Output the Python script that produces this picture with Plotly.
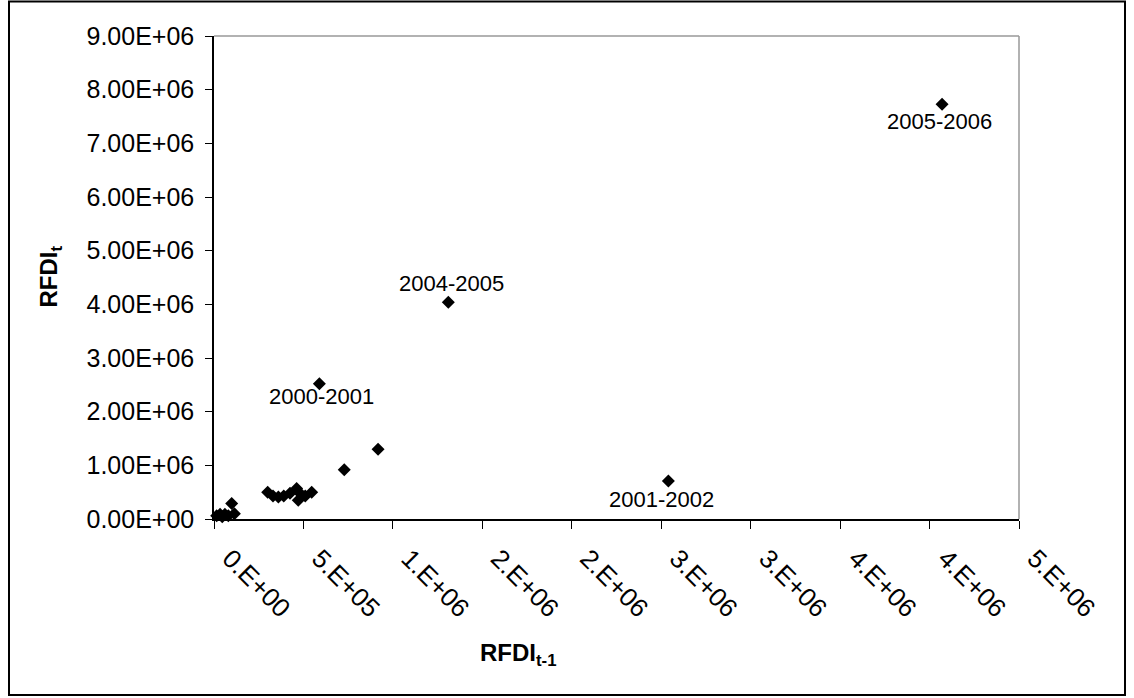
import plotly.graph_objects as go

# Data (values in units of 1)
x_vals = [0.015e6, 0.034e6, 0.046e6, 0.061e6, 0.080e6, 0.099e6, 0.114e6,
          0.300e6, 0.330e6, 0.360e6, 0.390e6, 0.425e6, 0.462e6, 0.475e6, 0.471e6, 0.510e6, 0.546e6,
          0.589e6, 0.728e6, 0.917e6, 1.310e6, 2.540e6, 4.070e6]
y_vals = [0.060e6, 0.087e6, 0.040e6, 0.087e6, 0.060e6, 0.290e6, 0.100e6,
          0.500e6, 0.430e6, 0.410e6, 0.430e6, 0.480e6, 0.570e6, 0.500e6, 0.350e6, 0.430e6, 0.500e6,
          2.520e6, 0.917e6, 1.300e6, 4.040e6, 0.710e6, 7.730e6]

label_names = ["2000-2001", "2004-2005", "2001-2002", "2005-2006"]
label_x = [0.589e6, 1.310e6, 2.540e6, 4.070e6]
label_y = [2.520e6, 4.040e6, 0.710e6, 7.730e6]
label_dx = [2, 3, -7, -3]
label_dy = [-13, 19, -19, -17]

x_tick_vals = [0, 0.5e6, 1.0e6, 1.5e6, 2.0e6, 2.5e6, 3.0e6, 3.5e6, 4.0e6, 4.5e6]
x_tick_text = ["0.E+00", "5.E+05", "1.E+06", "2.E+06", "2.E+06", "3.E+06", "3.E+06", "4.E+06", "4.E+06", "5.E+06"]
y_tick_vals = [0, 1e6, 2e6, 3e6, 4e6, 5e6, 6e6, 7e6, 8e6, 9e6]
y_tick_text = ["0.00E+00", "1.00E+06", "2.00E+06", "3.00E+06", "4.00E+06",
               "5.00E+06", "6.00E+06", "7.00E+06", "8.00E+06", "9.00E+06"]

FONT = "Liberation Sans, Arial, sans-serif"

fig = go.Figure()
fig.add_trace(go.Scatter(
    x=x_vals, y=y_vals, mode="markers",
    marker=dict(symbol="diamond", size=10, color="black"),
    showlegend=False, cliponaxis=False,
))

for name, lx, ly, dx, dy in zip(label_names, label_x, label_y, label_dx, label_dy):
    fig.add_annotation(x=lx, y=ly, text=name, showarrow=False,
                       xshift=dx, yshift=dy,
                       font=dict(family=FONT, size=22, color="black"))

L, R, T, B = 214, 1019, 36, 519
W, H = 1134, 698
pw, ph = R - L, B - T

# axis titles
fig.add_annotation(xref="paper", yref="paper",
                   x=(518 - L) / pw, y=(B - 672) / ph,
                   text="<b>RFDI<sub>t-1</sub></b>", showarrow=False,
                   font=dict(family=FONT, size=24, color="black"))
fig.add_annotation(xref="paper", yref="paper",
                   x=(32 - L) / pw, y=(B - 277) / ph,
                   text="<b>RFDI<sub>t</sub></b>", showarrow=False, textangle=-90,
                   font=dict(family=FONT, size=24, color="black"))

# outer border
fig.add_shape(type="rect", xref="paper", yref="paper",
              x0=(9 - L) / pw, x1=(1125 - L) / pw,
              y0=(B - 695) / ph, y1=(B - 1.5) / ph,
              line=dict(color="black", width=2), layer="below")
# plot area top/right gray border
fig.add_shape(type="line", xref="paper", yref="paper", x0=0, x1=1, y0=1, y1=1,
              line=dict(color="#999999", width=1.5))
fig.add_shape(type="line", xref="paper", yref="paper", x0=1, x1=1, y0=0, y1=1,
              line=dict(color="#999999", width=1.5))

fig.update_layout(
    width=W, height=H,
    margin=dict(l=L, r=W - R, t=T, b=H - B),
    paper_bgcolor="white", plot_bgcolor="white",
    font=dict(family=FONT, color="black"),
    xaxis=dict(
        range=[0, 4.5e6], tickvals=x_tick_vals, ticktext=x_tick_text,
        tickangle=45, ticks="outside", ticklen=8, tickcolor="black",
        ticklabelstandoff=4, ticklabelshift=16,
        showline=True, linecolor="black", linewidth=1.5,
        showgrid=False, zeroline=False,
        tickfont=dict(family=FONT, size=26),
    ),
    yaxis=dict(
        range=[0, 9e6], tickvals=y_tick_vals, ticktext=y_tick_text,
        ticks="outside", ticklen=7, tickcolor="black",
        ticklabelstandoff=6,
        showline=True, linecolor="black", linewidth=1.5,
        showgrid=False, zeroline=False,
        tickfont=dict(family=FONT, size=25),
    ),
)

fig.write_html("out.html")
